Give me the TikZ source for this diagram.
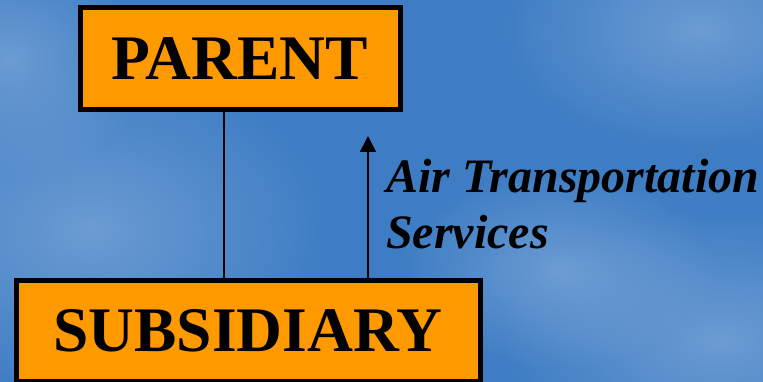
\documentclass[tikz,border=0pt]{standalone}
\usepackage{fontspec}
\setmainfont{Liberation Serif}
\usetikzlibrary{arrows.meta,fadings}
\definecolor{skyblue}{HTML}{3E7DC4}
\definecolor{skylight}{HTML}{7FA9D9}
\definecolor{boxorange}{HTML}{FF9900}
\tikzfading[name=softspot, inner color=transparent!0, outer color=transparent!100]
\tikzset{
  orgbox/.style={draw=black, line width=5pt, fill=boxorange, inner sep=0pt,
    font=\bfseries\fontsize{63.5}{70}\selectfont, text=black},
  link/.style={draw=black, line width=1.8pt},
  flow/.style={link, -{Triangle[width=16pt,length=16pt]}},
  flowlabel/.style={font=\bfseries\itshape\fontsize{48}{56}\selectfont, text=black,
    align=left, inner sep=0pt},
  cloud/.style={fill=skylight, path fading=softspot, fill opacity=0.7, draw=none}
}
\begin{document}
\begin{tikzpicture}[x=1pt,y=-1pt]
  \useasboundingbox (0,0) rectangle (763,382);
  \fill[skyblue] (0,0) rectangle (763,382);
  \begin{scope}
    \clip (0,0) rectangle (763,382);
    \fill[cloud] (90,230) ellipse (240 and 170);
    \fill[cloud] (10,60) ellipse (140 and 120);
    \fill[cloud] (700,30) ellipse (200 and 120);
    \fill[cloud] (720,340) ellipse (220 and 130);
    \fill[cloud] (560,270) ellipse (160 and 100);
  \end{scope}

  \node[orgbox, minimum width=320pt, minimum height=102pt] (parent) at (240,58.5) {PARENT};
  \node[orgbox, minimum width=464pt, minimum height=101pt] (sub) at (248,330.5) {SUBSIDIARY};

  \coordinate (lx) at (224,0);
  \coordinate (tip) at (368,136);
  \draw[link] (lx |- parent.south) -- (lx |- sub.north);
  \draw[flow] (tip |- sub.north) -- (tip);

  \node[flowlabel, anchor=base west] (label) at (386,248) {Air Transportation\\Services};
\end{tikzpicture}
\end{document}
